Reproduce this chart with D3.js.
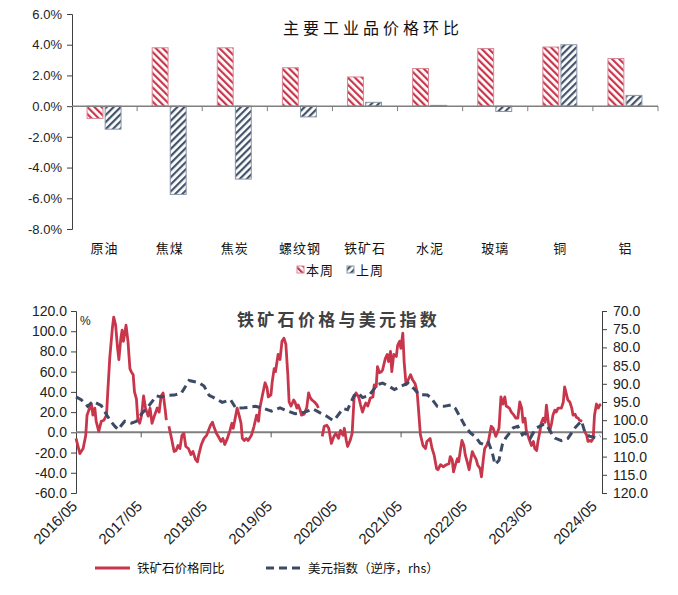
<!DOCTYPE html>
<html>
<head>
<meta charset="utf-8">
<script src="https://cdn.jsdelivr.net/npm/d3@7"></script>
<style>
  body { margin: 0; background: #fff; }
  svg { display: block; }
  .num { font-family: "Liberation Sans", Arial, sans-serif; }
  .cjk { font-family: "Noto Sans CJK SC", sans-serif; }
</style>
</head>
<body>
<div id="container"></div>
<script>
// ---- top chart data (week-on-week change, %)
const categories = ["原油", "焦煤", "焦炭", "螺纹钢", "铁矿石", "水泥", "玻璃", "铜", "铝"];
const thisWeek = [-0.8, 3.8, 3.8, 2.5, 1.9, 2.45, 3.75, 3.85, 3.1];
const lastWeek = [-1.5, -5.75, -4.75, -0.7, 0.25, 0.05, -0.35, 4.0, 0.7];
const seriesNames = ["本周", "上周"];
const pctTicks = [-8, -6, -4, -2, 0, 2, 4, 6];

// ---- bottom chart data
const dateLabels = ["2016/05", "2017/05", "2018/05", "2019/05", "2020/05", "2021/05", "2022/05", "2023/05", "2024/05"];
const leftTicks = [-60, -40, -20, 0, 20, 40, 60, 80, 100, 120];
const rightTicks = [70, 75, 80, 85, 90, 95, 100, 105, 110, 115, 120];

// iron ore price YoY (%), dates as decimal years, null = break in the line
const oreDates = [2016.33,2016.39,2016.44,2016.48,2016.50,2016.54,2016.57,2016.59,2016.62,2016.64,2016.68,2016.72,2016.76,2016.80,2016.82,2016.85,2016.89,2016.91,2016.94,2016.97,2016.99,2017.02,2017.04,2017.06,2017.10,2017.13,2017.16,2017.18,2017.21,2017.23,2017.26,2017.28,2017.31,2017.34,2017.37,2017.40,2017.44,2017.47,2017.50,2017.54,2017.58,2017.61,2017.64,2017.67,2017.70,2017.72,2017.74,
  2017.76,2017.80,2017.84,2017.87,2017.90,2017.93,2017.96,2017.99,2018.02,2018.06,2018.10,2018.13,2018.17,2018.20,2018.22,2018.26,2018.30,2018.34,2018.37,2018.40,2018.43,2018.45,2018.49,2018.52,2018.56,2018.59,2018.62,2018.66,2018.70,2018.73,2018.75,2018.78,2018.81,2018.84,2018.87,2018.89,2018.92,2018.95,2018.98,
  2019.03,2019.07,2019.11,2019.14,2019.16,2019.20,2019.24,2019.27,2019.29,2019.33,2019.35,2019.38,2019.40,2019.44,2019.47,2019.50,2019.53,2019.56,2019.59,2019.61,2019.64,2019.68,2019.70,2019.73,2019.75,2019.78,2019.80,2019.84,2019.88,2019.91,2019.93,2019.96,2020.00,2020.04,2020.06,2020.09,
  2020.12,2020.15,2020.19,2020.22,2020.26,2020.30,2020.33,2020.37,2020.40,2020.44,2020.46,2020.49,2020.51,2020.55,2020.58,2020.61,2020.64,2020.68,2020.71,2020.74,2020.77,2020.79,2020.82,2020.86,2020.90,2020.92,2020.95,2020.97,2021.00,2021.03,2021.05,2021.09,2021.12,2021.14,2021.17,2021.19,2021.22,2021.26,2021.28,2021.31,2021.33,2021.36,2021.38,2021.41,2021.45,2021.48,2021.51,2021.55,2021.58,2021.60,2021.63,2021.67,2021.71,2021.73,2021.78,2021.81,2021.84,2021.88,2021.90,2021.94,2021.98,
  2022.03,2022.07,2022.09,2022.12,2022.14,2022.17,2022.20,2022.22,2022.25,2022.27,2022.30,2022.32,2022.35,2022.38,2022.40,2022.43,2022.45,2022.49,2022.51,2022.55,2022.57,2022.60,2022.62,2022.65,2022.68,2022.72,2022.75,2022.79,2022.81,2022.84,2022.87,2022.90,2022.93,2022.95,
  2023.00,2023.03,2023.07,2023.10,2023.13,2023.16,2023.19,2023.21,2023.24,2023.26,2023.30,2023.34,2023.37,2023.39,2023.42,2023.44,2023.47,2023.49,2023.52,2023.55,2023.57,2023.60,2023.62,2023.65,2023.67,2023.70,2023.72,2023.75,2023.80,2023.83,2023.85,2023.88,2023.90,2023.93,2023.96,2023.98,
  2024.01,2024.03,2024.06,2024.08,2024.12,2024.14,2024.16,2024.19,2024.21,2024.24,2024.26,2024.29,2024.31,2024.34,2024.37,2024.39,2024.41];
const oreYoY = [-6,-21,-16,-3,17,24,27,17,24,11,1,11,12,17,41,74,103,114,106,83,72,93,101,90,106,90,63,60,57,40,33,14,9,17,36,24,16,24,9,17,24,20,36,39,24,12,null,
  6,-6,-19,-18,-13,-16,-3,-1,-14,-16,-22,-19,-27,-29,-22,-12,-6,-3,2,7,10,6,-1,-4,-9,-6,-12,-6,2,9,4,14,24,17,9,-6,-8,-6,-8,
  -3,6,17,11,24,37,49,44,35,37,50,63,60,77,72,90,93,87,57,30,26,32,30,24,27,22,17,18,24,39,35,32,30,27,24,null,
  -4,6,7,4,-11,-4,-1,-6,2,-3,4,-8,-14,-8,-1,34,39,35,27,20,26,29,26,34,35,47,45,65,59,60,62,73,77,70,80,60,77,75,86,90,83,98,70,47,53,57,52,48,40,24,-2,-13,-16,-9,-6,-16,-22,-36,-37,-32,-34,
  -32,-31,-24,-27,-39,-32,-26,-29,-16,-8,-13,-22,-29,-37,-29,-19,-22,-27,-32,-36,-44,-26,-16,-13,-8,6,4,-4,-1,4,35,28,35,26,
  24,20,17,14,14,30,24,10,14,2,-6,-13,-9,-16,-18,-9,1,9,14,10,27,10,1,9,17,22,20,24,24,30,45,37,32,30,24,17,
  18,15,14,12,11,null,1,-3,-9,-8,-9,-6,17,28,24,27,28];

// US dollar index (plotted on a reversed right axis)
const dxyDates = [2016.33,2016.41,2016.51,2016.59,2016.72,2016.80,2016.87,2016.93,2016.98,2017.02,2017.08,2017.18,2017.26,2017.34,2017.44,2017.57,2017.64,2017.74,2017.84,2017.95,2018.07,2018.22,2018.30,2018.38,2018.45,2018.58,2018.71,2018.79,2018.92,2019.09,2019.21,2019.34,2019.47,2019.55,2019.70,2019.83,2019.98,2020.11,2020.19,2020.29,2020.33,2020.44,2020.51,2020.61,2020.67,2020.74,2020.84,2020.97,2021.05,2021.15,2021.23,2021.33,2021.44,2021.54,2021.61,2021.74,2021.79,2021.89,2021.99,2022.10,2022.17,2022.25,2022.32,2022.40,2022.48,2022.55,2022.63,2022.68,2022.73,2022.78,2022.84,2022.89,2022.94,2023.06,2023.13,2023.20,2023.24,2023.32,2023.41,2023.52,2023.57,2023.66,2023.70,2023.80,2023.90,2024.01,2024.11,2024.16,2024.23,2024.34,2024.40];
const dxy = [93.6,94.4,96.2,94.8,96.0,98.5,100.4,101.7,102.6,101.6,100.3,100.8,100.3,98.2,96.3,93.3,93.6,93.2,93.1,92.6,89.1,89.7,90.6,93.2,93.8,95.1,94.4,96.7,96.6,96.2,96.7,97.5,96.6,97.2,98.2,97.9,96.9,98.2,98.9,100.1,99.4,96.8,97.1,93.2,92.5,93.8,93.2,90.2,89.8,90.7,91.6,90.7,89.8,91.5,93.0,93.1,93.8,96.2,96.2,95.8,96.8,99.4,101.7,103.5,104.6,106.3,106.8,106.2,108.5,112.2,111.0,106.8,105.0,102.1,101.7,104.0,103.5,105.0,102.2,101.2,101.2,104.0,104.9,105.6,105.0,102.1,100.2,103.2,104.4,104.8,104.3];

const RED = "#c8364c";
const NAVY = "#3c4a66";

const svg = d3.select("#container").append("svg")
  .attr("width", 678).attr("height", 595);
svg.append("rect").attr("width", 678).attr("height", 595).attr("fill", "#fff");

// hatch patterns
const defs = svg.append("defs");
function hatch(id, color, angle) {
  const p = defs.append("pattern").attr("id", id)
    .attr("patternUnits", "userSpaceOnUse")
    .attr("width", 5).attr("height", 5)
    .attr("patternTransform", `rotate(${angle})`);
  p.append("rect").attr("width", 5).attr("height", 5).attr("fill", "#fff");
  p.append("rect").attr("width", 2.2).attr("height", 5).attr("fill", color);
}
hatch("hRed", RED, -45);
hatch("hNavy", "#44546a", 45);

// ================= top chart =================
const topBox = {left: 72, right: 658, top: 14, bottom: 229};
const x0 = d3.scaleBand().domain(categories).range([topBox.left, topBox.right]);
const y0 = d3.scaleLinear().domain([-8, 6]).range([topBox.bottom, topBox.top]);

const gTop = svg.append("g");

gTop.append("g")
  .attr("class", "num")
  .attr("transform", `translate(${topBox.left},0)`)
  .call(d3.axisLeft(y0).tickValues(pctTicks).tickSize(5).tickFormat(d => d.toFixed(1) + "%"))
  .call(g => g.select(".domain").attr("stroke", "#404040"))
  .call(g => g.selectAll(".tick line").attr("stroke", "#404040"))
  .call(g => g.selectAll("text").attr("font-size", 13).attr("fill", "#222").attr("dx", -2));

const barsData = categories.map((c, i) => ({c, vals: [thisWeek[i], lastWeek[i]]}));
const fills = ["url(#hRed)", "url(#hNavy)"];
const borders = ["#d98795", "#8a97a8"];

barsData.forEach(d => {
  const cx = x0(d.c) + x0.bandwidth() / 2;
  const x1 = d3.scaleBand().domain(seriesNames).range([cx - 17.5, cx + 16.5]).paddingInner(0.12);
  seriesNames.forEach((s, k) => {
    const v = d.vals[k];
    gTop.append("rect")
      .attr("x", x1(s))
      .attr("y", y0(Math.max(0, v)))
      .attr("width", x1.bandwidth())
      .attr("height", Math.abs(y0(v) - y0(0)))
      .attr("fill", fills[k])
      .attr("stroke", borders[k])
      .attr("stroke-width", 1);
  });
});

// zero baseline with category-boundary ticks
gTop.append("line")
  .attr("x1", topBox.left).attr("x2", topBox.right)
  .attr("y1", y0(0)).attr("y2", y0(0))
  .attr("stroke", "#7f7f7f").attr("stroke-width", 1.5);
gTop.selectAll(".ctick").data(categories.slice(1).concat(["end"]))
  .join("line")
  .attr("x1", d => d === "end" ? topBox.right : x0(d))
  .attr("x2", d => d === "end" ? topBox.right : x0(d))
  .attr("y1", y0(0)).attr("y2", y0(0) + 5)
  .attr("stroke", "#7f7f7f");

gTop.selectAll(".clabel").data(categories).join("text")
  .attr("class", "cjk")
  .attr("x", d => x0(d) + x0.bandwidth() / 2)
  .attr("y", 253)
  .attr("text-anchor", "middle")
  .attr("font-size", 13)
  .attr("letter-spacing", 1)
  .attr("fill", "#111")
  .text(d => d);

gTop.append("text").attr("class", "cjk")
  .attr("x", 283).attr("y", 34)
  .attr("font-size", 16).attr("letter-spacing", 4)
  .attr("fill", "#111")
  .text("主要工业品价格环比");

// legend top
const legTop = [{name: seriesNames[0], x: 297}, {name: seriesNames[1], x: 347}];
legTop.forEach((l, k) => {
  gTop.append("rect").attr("x", l.x).attr("y", 266).attr("width", 7).attr("height", 7)
    .attr("fill", fills[k]).attr("stroke", borders[k]);
  gTop.append("text").attr("class", "cjk")
    .attr("x", l.x + 9).attr("y", 275)
    .attr("font-size", 13).attr("letter-spacing", 1).attr("fill", "#111")
    .text(l.name);
});

// ================= bottom chart =================
const botBox = {left: 76, right: 602, top: 311, bottom: 493};
const x = d3.scaleLinear().domain([2016.33, 2024.41]).range([botBox.left, botBox.right - 1]);
const yL = d3.scaleLinear().domain([-60, 120]).range([botBox.bottom, botBox.top]);
const yR = d3.scaleLinear().domain([70, 120]).range([botBox.top, botBox.bottom]);
// "2016/05" -> 2016 + 4/12
const labelYear = s => +s.slice(0, 4) + (+s.slice(5) - 1) / 12;

const gBot = svg.append("g");

gBot.append("g")
  .attr("class", "num")
  .attr("transform", `translate(${botBox.left},0)`)
  .call(d3.axisLeft(yL).tickValues(leftTicks).tickSize(5).tickFormat(d => d.toFixed(1)))
  .call(g => g.select(".domain").attr("stroke", "#404040"))
  .call(g => g.selectAll(".tick line").attr("stroke", "#404040"))
  .call(g => g.selectAll("text").attr("font-size", 14).attr("fill", "#222").attr("dx", -1));

gBot.append("g")
  .attr("class", "num")
  .attr("transform", `translate(${botBox.right},0)`)
  .call(d3.axisRight(yR).tickValues(rightTicks).tickSize(5).tickFormat(d => d.toFixed(1)))
  .call(g => g.select(".domain").attr("stroke", "#404040"))
  .call(g => g.selectAll(".tick line").attr("stroke", "#404040"))
  .call(g => g.selectAll("text").attr("font-size", 14).attr("fill", "#222").attr("dx", 3));

// zero line with biennial ticks
gBot.append("line")
  .attr("x1", botBox.left).attr("x2", botBox.right)
  .attr("y1", yL(0)).attr("y2", yL(0))
  .attr("stroke", "#7f7f7f").attr("stroke-width", 2);
gBot.selectAll(".ztick").data(dateLabels.filter((d, i) => i % 2 === 1)).join("line")
  .attr("x1", d => x(labelYear(d))).attr("x2", d => x(labelYear(d)))
  .attr("y1", yL(0)).attr("y2", yL(0) + 5)
  .attr("stroke", "#555");

// date labels (rotated)
gBot.selectAll(".dlabel").data(dateLabels).join("text")
  .attr("class", "num")
  .attr("transform", d => `translate(${x(labelYear(d)) + 2},507) rotate(-45)`)
  .attr("text-anchor", "end")
  .attr("font-size", 15)
  .attr("fill", "#222")
  .text(d => d);

gBot.append("text").attr("class", "num")
  .attr("x", 80).attr("y", 325).attr("font-size", 12).attr("fill", "#222").text("%");

gBot.append("text").attr("class", "cjk")
  .attr("x", 237).attr("y", 326)
  .attr("font-size", 17).attr("font-weight", "bold").attr("letter-spacing", 3.3)
  .attr("fill", "#404040")
  .text("铁矿石价格与美元指数");

// lines
const oreLine = d3.line()
  .defined(d => d.v !== null)
  .x(d => x(d.t)).y(d => yL(d.v));
const dxyLine = d3.line()
  .x(d => x(d.t)).y(d => yR(d.v));

gBot.append("path")
  .datum(oreDates.map((t, i) => ({t, v: oreYoY[i]})))
  .attr("fill", "none").attr("stroke", RED).attr("stroke-width", 2.8)
  .attr("stroke-linejoin", "round")
  .attr("d", oreLine);

gBot.append("path")
  .datum(dxyDates.map((t, i) => ({t, v: dxy[i]})))
  .attr("fill", "none").attr("stroke", NAVY).attr("stroke-width", 3)
  .attr("stroke-dasharray", "8,5")
  .attr("d", dxyLine);

// legend bottom
gBot.append("line").attr("x1", 95).attr("x2", 130).attr("y1", 568).attr("y2", 568)
  .attr("stroke", RED).attr("stroke-width", 3);
gBot.append("text").attr("class", "cjk")
  .attr("x", 137).attr("y", 573).attr("font-size", 12.5).attr("fill", "#111")
  .text("铁矿石价格同比");
gBot.append("line").attr("x1", 266).attr("x2", 305).attr("y1", 568).attr("y2", 568)
  .attr("stroke", NAVY).attr("stroke-width", 3).attr("stroke-dasharray", "8,5");
gBot.append("text").attr("class", "cjk")
  .attr("x", 308).attr("y", 573).attr("font-size", 12.5).attr("fill", "#111")
  .text("美元指数（逆序，rhs）");
</script>
</body>
</html>
